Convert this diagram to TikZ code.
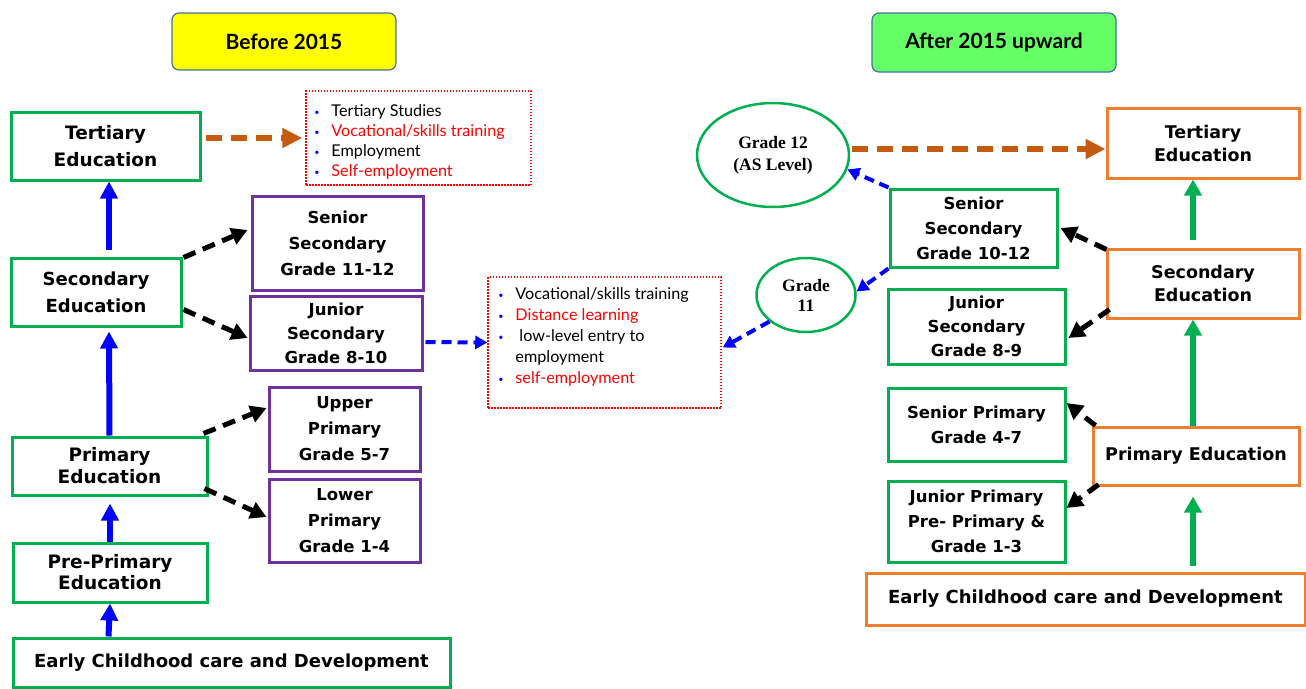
\documentclass[tikz,border=0pt]{standalone}
\usepackage{fontspec}
\setmainfont{DejaVu Sans}
\newfontfamily\listfont{Lato}
\newfontfamily\serifface{Liberation Serif}
\usetikzlibrary{arrows.meta,shapes.geometric,calc}

\definecolor{edugreen}{HTML}{00B050}
\definecolor{edupurple}{HTML}{7030A0}
\definecolor{eduorange}{HTML}{ED7D31}
\definecolor{edubrown}{HTML}{C55A11}
\definecolor{edublue}{HTML}{0000FF}
\definecolor{edured}{HTML}{FF0000}
\definecolor{titleedge}{HTML}{41719C}
\definecolor{titleyellow}{HTML}{FFFF00}
\definecolor{titlegreen}{HTML}{66FF66}

% bullet item for the outcome lists
\newcommand\itm[2]{\makebox[17pt][l]{\textcolor{edublue}{\fontsize{9}{9}\selectfont\raisebox{1pt}{•}}}\textcolor{#1}{#2}}

\tikzset{
  box/.style={draw, line width=3pt, fill=white, align=center, inner sep=0pt,
    font=\bfseries\fontsize{18}{27}\selectfont},
  gbox/.style={box, draw=edugreen},
  pbox/.style={box, draw=edupurple, font=\bfseries\fontsize{16.5}{26}\selectfont},
  obox/.style={box, draw=eduorange, font=\bfseries\fontsize{17.5}{23}\selectfont},
  sbox/.style={box, draw=edugreen, font=\bfseries\fontsize{16.5}{25}\selectfont},
  oval/.style={ellipse, draw=edugreen, line width=2.5pt, fill=white, inner sep=0pt,
    align=center, font=\serifface\bfseries\fontsize{17.5}{22}\selectfont},
  titlebox/.style={draw=titleedge, line width=1.2pt, rounded corners=7pt,
    font=\listfont\bfseries\fontsize{21}{24}\selectfont},
  listbox/.style={draw=edured, line width=1.5pt, dash pattern=on 1.5pt off 1.5pt},
  listtext/.style={anchor=north west, inner sep=0pt, align=left,
    font=\listfont\fontsize{16.2}{20}\selectfont},
  upblue/.style={draw=edublue, line width=6pt, -{Triangle[length=17pt,width=17pt]}},
  upgreen/.style={draw=edugreen, line width=6pt, -{Triangle[length=16pt,width=17pt]}},
  branch/.style={draw=black, line width=5pt, dash pattern=on 13pt off 8pt,
    -{Triangle[length=16pt,width=17pt]}},
  brownlink/.style={draw=edubrown, line width=6pt, dash pattern=on 16pt off 9pt,
    -{Triangle[length=20pt,width=19pt]}},
  bluelink/.style={draw=edublue, line width=4pt, dash pattern=on 10pt off 6pt,
    -{Triangle[length=12pt,width=13pt]}},
}

\begin{document}
\begin{tikzpicture}[x=1pt,y=-1pt]
\useasboundingbox (0,0) rectangle (1306,688);

% headings
\node[titlebox, fill=titleyellow, minimum width=224pt, minimum height=57pt] (before) at (284,41.5) {Before 2015};
\node[titlebox, fill=titlegreen, minimum width=244pt, minimum height=59pt] (after) at (994,42.5) {After 2015 upward};

% ---------------- system before 2015 ----------------
\node[gbox, minimum width=189pt, minimum height=68pt, font=\bfseries\fontsize{18.5}{27}\selectfont] (tertL) at (105.5,146) {Tertiary\\Education};
\node[gbox, minimum width=170pt, minimum height=68pt] (secL) at (96,292) {Secondary\\Education};
\node[gbox, minimum width=195pt, minimum height=58pt, font=\bfseries\fontsize{18.5}{22}\selectfont] (priL) at (109.5,466) {Primary\\Education};
\node[gbox, minimum width=194pt, minimum height=59pt, font=\bfseries\fontsize{18.5}{21}\selectfont] (preL) at (110,572.5) {Pre-Primary\\Education};
\node[gbox, minimum width=437pt, minimum height=49pt] (earlyL) at (231.5,662.5) {Early Childhood care and Development};

\node[pbox, minimum width=171pt, minimum height=94pt] (seniorSecL) at (337.5,243) {Senior\\Secondary\\Grade 11-12};
\node[pbox, minimum width=172pt, minimum height=74pt, font=\bfseries\fontsize{16.5}{24}\selectfont] (juniorSecL) at (336,333) {Junior\\Secondary\\Grade 8-10};
\node[pbox, minimum width=151pt, minimum height=84pt] (upperPriL) at (344.5,429) {Upper\\Primary\\Grade 5-7};
\node[pbox, minimum width=151pt, minimum height=83pt] (lowerPriL) at (344.5,520.5) {Lower\\Primary\\Grade 1-4};

% outcome lists
\node[listbox, minimum width=225pt, minimum height=94pt] (outTert) at (418.5,138) {};
\node[listtext] (outTertText) at ($(outTert.north west)+(9,14.5)$) {%
  \itm{black}{Tertiary Studies}\\
  \itm{edured}{Vocational/skills training}\\
  \itm{black}{Employment}\\
  \itm{edured}{Self-employment}};

\node[listbox, minimum width=233pt, minimum height=131pt] (outJun) at (604.5,342.5) {};
\node[listtext, font=\listfont\fontsize{16.2}{21}\selectfont] (outJunText) at ($(outJun.north west)+(11,11.5)$) {%
  \itm{black}{Vocational/skills training}\\
  \itm{edured}{Distance learning}\\
  \itm{black}{\hspace{4pt}low-level entry to}\\
  \hspace{17pt}employment\\
  \itm{edured}{self-employment}};

% progression
\draw[upblue] ($(secL.north)+(13,-7)$) -- ($(tertL.south)+(3.5,0)$);
\draw[upblue] (priL.north) -- ($(secL.south)+(13,4)$);
\draw[upblue] (preL.north) -- ($(priL.south)+(0.5,7)$);
\draw[upblue] ($(earlyL.north west)+(97,0)$) -- (preL.south);

\draw[branch] ($(secL.north east)+(1,1)$) -- ($(seniorSecL.west)+(-3,-13)$);
\draw[branch] ($(secL.south east)+(1,-18)$) -- ($(juniorSecL.west)+(-1,5)$);
\draw[branch] ($(priL.north east)+(-5,-2)$) -- ($(upperPriL.west)+(-1,-21)$);
\draw[branch] ($(priL.south east)+(-4,-8)$) -- ($(lowerPriL.west)+(-1,-3.5)$);

\draw[brownlink] ($(tertL.east)+(4,-8)$) -- ($(outTert.west)+(-3,0)$);
\draw[bluelink] ($(juniorSecL.east)+(2,9)$) -- (outJun.west);

% ---------------- system from 2015 ----------------
\node[oval, minimum width=152pt, minimum height=104pt] (grade12) at (773,155) {Grade 12\\(AS Level)};
\node[oval, minimum width=99pt, minimum height=74pt, font=\serifface\bfseries\fontsize{17.5}{20}\selectfont] (grade11) at (806,295) {Grade\\11};

\node[obox, minimum width=192pt, minimum height=70pt] (tertR) at (1203,143) {Tertiary\\Education};
\node[obox, minimum width=192pt, minimum height=69pt] (secR) at (1203,283.5) {Secondary\\Education};
\node[obox, minimum width=206pt, minimum height=58pt] (priR) at (1196,456) {Primary Education};
\node[obox, minimum width=439pt, minimum height=52pt, font=\bfseries\fontsize{18}{23}\selectfont] (earlyR) at (1085.5,599) {Early Childhood care and Development};

\node[sbox, minimum width=167pt, minimum height=78pt] (seniorSecR) at (973.5,228) {Senior\\Secondary\\Grade 10-12};
\node[sbox, minimum width=177pt, minimum height=75pt, font=\bfseries\fontsize{16.5}{24}\selectfont] (juniorSecR) at (976.5,326.5) {Junior\\Secondary\\Grade 8-9};
\node[sbox, minimum width=177pt, minimum height=73pt] (seniorPriR) at (976.5,424.5) {Senior Primary\\Grade 4-7};
\node[sbox, minimum width=177pt, minimum height=81pt] (juniorPriR) at (976.5,521.5) {Junior Primary\\Pre- Primary \&\\Grade 1-3};

\draw[upgreen] ($(secR.north)+(-10,-8)$) -- ($(tertR.south)+(-10,0)$);
\draw[upgreen] ($(priR.north)+(-3,0)$) -- ($(secR.south)+(-10,0)$);
\draw[upgreen] ($(earlyR.north)+(107.5,-6)$) -- ($(priR.south)+(-3,10)$);

\draw[branch] ($(secR.north west)+(1,2)$) -- ($(seniorSecR.east)+(2,0)$);
\draw[branch] ($(secR.south west)+(4,-10)$) -- ($(juniorSecR.east)+(2,11.5)$);
\draw[branch] ($(priR.north west)+(4,0)$) -- ($(seniorPriR.east)+(0,-21.5)$);
\draw[branch] ($(priR.south west)+(7,-2)$) -- ($(juniorPriR.east)+(0,-13.5)$);

\draw[brownlink] ($(grade12.east)+(2,-6)$) -- ($(tertR.west)+(0,6)$);
\draw[bluelink] (seniorSecR.north west) -- (grade12.-11);
\draw[bluelink] (seniorSecR.south west) -- (grade11.4);
\draw[bluelink] (grade11.216) -- ($(outJun.east)+(1,5)$);
\end{tikzpicture}
\end{document}
